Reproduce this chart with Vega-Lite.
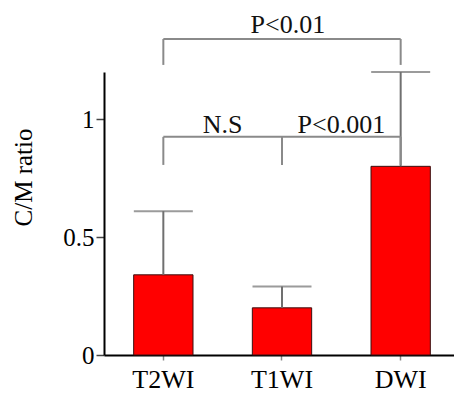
{
  "$schema": "https://vega.github.io/schema/vega-lite/v6.json",
  "width": 356,
  "height": 283,
  "autosize": "none",
  "padding": {"left": 104, "top": 72, "right": 0, "bottom": 38},
  "background": "white",
  "config": {"view": {"stroke": null}, "font": "Liberation Serif"},
  "datasets": {
    "bars": [
      {"seq": "T2WI", "mean": 0.34, "upper": 0.61},
      {"seq": "T1WI", "mean": 0.2, "upper": 0.29},
      {"seq": "DWI", "mean": 0.8, "upper": 1.2}
    ],
    "hlines": [
      {"from": "T2WI", "to": "DWI", "y": 1.34},
      {"from": "T2WI", "to": "DWI", "y": 0.925}
    ],
    "legs": [
      {"seq": "T2WI", "y1": 1.34, "y2": 1.23},
      {"seq": "DWI", "y1": 1.34, "y2": 1.23},
      {"seq": "T2WI", "y1": 0.925, "y2": 0.806},
      {"seq": "T1WI", "y1": 0.925, "y2": 0.806},
      {"seq": "DWI", "y1": 0.925, "y2": 0.806}
    ],
    "midlabels": [
      {"left": "T2WI", "y": 0.941, "label": "N.S"},
      {"left": "T1WI", "y": 0.941, "label": "P<0.001"}
    ],
    "toplabels": [
      {"seq": "T1WI", "y": 1.366, "label": "P<0.01"}
    ]
  },
  "layer": [
    {
      "data": {"name": "bars"},
      "mark": {"type": "bar", "color": "#ff0000", "stroke": "#3a1010", "strokeWidth": 1},
      "encoding": {
        "x": {
          "field": "seq", "type": "nominal", "sort": ["T2WI", "T1WI", "DWI"],
          "scale": {"domain": ["T2WI", "T1WI", "DWI"], "paddingInner": 0.5, "paddingOuter": 0.25},
          "axis": {
            "title": null, "labelAngle": 0, "labelFont": "Liberation Serif", "labelFontSize": 26,
            "labelColor": "black", "labelPadding": 6, "domainColor": "black", "domainWidth": 2,
            "tickColor": "#888888", "tickSize": 5, "tickWidth": 1.5
          }
        },
        "y": {
          "field": "mean", "type": "quantitative",
          "scale": {"domain": [0, 1.2], "nice": false},
          "axis": {
            "title": "C/M ratio", "values": [0, 0.5, 1], "format": "~g", "grid": false,
            "labelFont": "Liberation Serif", "labelFontSize": 25, "labelColor": "black", "labelPadding": 2,
            "tickSize": 8, "tickColor": "#444444", "tickWidth": 1.5, "domainColor": "black", "domainWidth": 2,
            "titleFont": "Liberation Serif", "titleFontSize": 25, "titleFontWeight": "normal", "titleColor": "black",
            "titlePadding": 26, "titleY": 105
          }
        }
      }
    },
    {
      "data": {"name": "bars"},
      "mark": {"type": "rule", "color": "#707070", "strokeWidth": 2},
      "encoding": {
        "x": {"field": "seq", "type": "nominal", "bandPosition": 0.5},
        "y": {"field": "mean", "type": "quantitative"},
        "y2": {"field": "upper"}
      }
    },
    {
      "data": {"name": "bars"},
      "mark": {"type": "tick", "color": "#707070", "thickness": 2, "size": 59, "orient": "horizontal"},
      "encoding": {
        "x": {"field": "seq", "type": "nominal", "bandPosition": 0.5},
        "y": {"field": "upper", "type": "quantitative"}
      }
    },
    {
      "data": {"name": "hlines"},
      "mark": {"type": "rule", "color": "#8a8a8a", "strokeWidth": 2},
      "encoding": {
        "x": {"field": "from", "type": "nominal", "bandPosition": 0.5},
        "x2": {"field": "to", "bandPosition": 0.5},
        "y": {"field": "y", "type": "quantitative"}
      }
    },
    {
      "data": {"name": "legs"},
      "mark": {"type": "rule", "color": "#8a8a8a", "strokeWidth": 2},
      "encoding": {
        "x": {"field": "seq", "type": "nominal", "bandPosition": 0.5},
        "y": {"field": "y1", "type": "quantitative"},
        "y2": {"field": "y2"}
      }
    },
    {
      "data": {"name": "midlabels"},
      "mark": {"type": "text", "font": "Liberation Serif", "fontSize": 26, "color": "#111111", "baseline": "alphabetic", "align": "center"},
      "encoding": {
        "x": {"field": "left", "type": "nominal", "bandPosition": 1.5},
        "y": {"field": "y", "type": "quantitative"},
        "text": {"field": "label"}
      }
    },
    {
      "data": {"name": "toplabels"},
      "mark": {"type": "text", "font": "Liberation Serif", "fontSize": 26, "color": "#111111", "baseline": "alphabetic", "align": "center"},
      "encoding": {
        "x": {"field": "seq", "type": "nominal", "bandPosition": 0.6},
        "y": {"field": "y", "type": "quantitative"},
        "text": {"field": "label"}
      }
    }
  ]
}
